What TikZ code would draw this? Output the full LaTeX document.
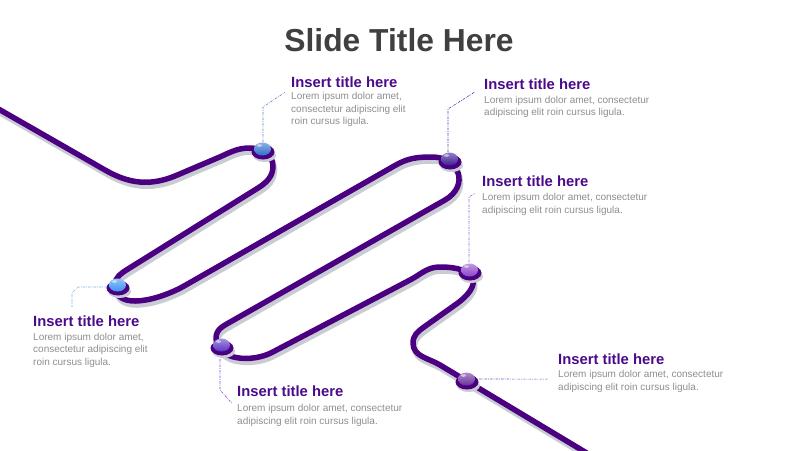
\documentclass[tikz,border=0pt]{standalone}
\usepackage{fontspec}
\setmainfont{Liberation Sans}
\usetikzlibrary{calc}
\definecolor{road}{HTML}{4B0082}
\definecolor{roadshadow}{HTML}{C9CDD3}
\definecolor{ttl}{HTML}{4B0A8A}
\definecolor{bodytxt}{HTML}{8F8F8F}
\definecolor{slidettl}{HTML}{404040}
\definecolor{dA}{HTML}{2F6FCB}\definecolor{lA}{HTML}{5B87C9}
\definecolor{dB}{HTML}{3A92F2}\definecolor{lB}{HTML}{6FB0F2}
\definecolor{dC}{HTML}{3C1C93}\definecolor{lC}{HTML}{5A3AA5}
\definecolor{dD}{HTML}{5A35C4}\definecolor{lD}{HTML}{7050D5}
\definecolor{dE}{HTML}{8B45C9}\definecolor{lE}{HTML}{9A60D0}
\definecolor{dF}{HTML}{6B2F9E}\definecolor{lF}{HTML}{8050B0}
\tikzset{
  roadline/.style={line width=5.5pt, draw=road, line cap=round, line join=round,
    preaction={draw=roadshadow, line width=5.5pt, transform canvas={shift={(1.5pt,-4pt)}}}},
  lead/.style={draw=#1, line width=0.6pt, dash pattern=on 2.5pt off 1.2pt on 0.6pt off 1.2pt},
  itemtitle/.style={anchor=base west, inner sep=0pt, text=ttl, font=\fontsize{14.8}{17}\selectfont\bfseries},
  itembody/.style={anchor=north west, inner sep=0pt, text=bodytxt, align=left, font=\fontsize{10}{12.5}\selectfont},
}
\newcommand{\bead}[3]{%
  \coordinate (#3) at (#1);
  \begin{scope}[shift={(#1)}]
    \fill[roadshadow] (1.5,4.5) ellipse [x radius=11.5pt, y radius=6.5pt];
    \fill[road] (0,1) ellipse [x radius=11.5pt, y radius=7.5pt];
    \shade[top color=#2!55!white, bottom color=#2] (-0.5,-2) ellipse [x radius=8.5pt, y radius=6.5pt];
    \fill[white, opacity=.55] (-3.5,-5.5) ellipse [x radius=2.5pt, y radius=1.3pt];
  \end{scope}}
\begin{document}
\begin{tikzpicture}[x=1pt, y=-1pt]
\useasboundingbox (0,0) rectangle (800,450);
\fill[white] (0,0) rectangle (800,450);
\node[anchor=base, inner sep=0pt, text=slidettl, font=\fontsize{31.8}{36}\selectfont\bfseries] (title) at (399,51.7) {Slide Title Here};

\begin{scope}[y=1pt, shift={(0pt,-450pt)}]
\draw[roadline] (-5,343) -- (105,280) to[out=-30,in=202] (175,274) -- (215,291)
  to[out=22,in=180] (250,302) to[out=0,in=90] (273,284) to[out=-90,in=32] (258,262)
  -- (128,181) to[out=212,in=90] (115,165) to[out=-90,in=210] (185,164.5)
  -- (395,284.5) to[out=30,in=180] (432,293) to[out=0,in=30,looseness=1.6] (445,250)
  -- (232,129) to[out=210,in=90] (216,112) to[out=-90,in=207.7] (272,97.6)
  -- (410,170) to[out=27.7,in=180] (440,183) to[out=0,in=35,looseness=2.3] (455,145)
  -- (424,123) to[out=215,in=90] (413,107) to[out=-90,in=149] (440,85) -- (600,-11);
\end{scope}

% text blocks
\node[itemtitle] (t1) at (291,87) {Insert title here};
\node[itembody] (b1) at (291,92.3) {Lorem ipsum dolor amet,\\consectetur adipiscing elit\\roin cursus ligula.};
\node[itemtitle] (t3) at (484,89.3) {Insert title here};
\node[itembody] (b3) at (484,95.8) {Lorem ipsum dolor amet, consectetur\\adipiscing elit roin cursus ligula.};
\node[itemtitle] (t5) at (482,186.7) {Insert title here};
\node[itembody] (b5) at (482,193.3) {Lorem ipsum dolor amet, consectetur\\adipiscing elit roin cursus ligula.};
\node[itemtitle] (t2) at (33,326) {Insert title here};
\node[itembody] (b2) at (33,332.8) {Lorem ipsum dolor amet,\\consectetur adipiscing elit\\roin cursus ligula.};
\node[itemtitle] (t4) at (237,396.5) {Insert title here};
\node[itembody] (b4) at (237,404.3) {Lorem ipsum dolor amet, consectetur\\adipiscing elit roin cursus ligula.};
\node[itemtitle] (t6) at (558,364) {Insert title here};
\node[itembody] (b6) at (558,370.1) {Lorem ipsum dolor amet, consectetur\\adipiscing elit roin cursus ligula.};

% beads
\bead{263,151}{dA}{m1}
\bead{118,287}{dB}{m2}
\bead{450,161}{dC}{m3}
\bead{222,347}{dD}{m4}
\bead{470,272}{dE}{m5}
\bead{467,381}{dF}{m6}

% leaders
\draw[lead=lA] ($(m1)+(0,-9)$) -- ++(0,-35) -- ($(b1.north west)+(-6,0)$);
\draw[lead=lC] ($(m3)+(-2,-9)$) -- ++(0,-43) -- ($(b3.north west)+(-9,-4)$);
\draw[lead=lB] ($(m2)+(-11,0)$) -- ++(-29,0) -- ++(-6,6) -- ($(t2.base west)+(39,-19)$);
\draw[lead=lD] ($(m4)+(-2,12)$) -- ++(0,31) -- ($(b4.north west)+(-5,-1)$);
\draw[lead=lE] ($(m5)+(-1,-10)$) -- ++(0,-65) -- ($(b5.north west)+(-7,0)$);
\draw[lead=lF] ($(m6)+(12,-2)$) -- ($(b6.north west)+(-10,9)$);
\end{tikzpicture}
\end{document}
